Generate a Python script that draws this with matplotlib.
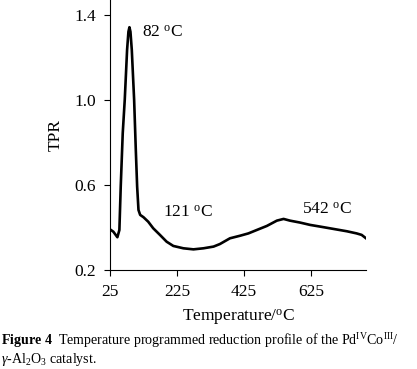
import matplotlib
matplotlib.use("Agg")
from matplotlib import pyplot as plt

plt.rcParams['font.family'] = ['Liberation Serif', 'DejaVu Serif']
plt.rcParams['mathtext.fontset'] = 'custom'
plt.rcParams['mathtext.rm'] = 'Liberation Serif'
plt.rcParams['mathtext.it'] = 'Liberation Serif:italic'
plt.rcParams['mathtext.bf'] = 'Liberation Serif:bold'

# TPR curve
temperature = [25, 35, 47, 53, 57, 63, 69, 76, 80, 83, 86, 90, 97, 102, 106, 110,
               115, 125, 139, 154, 174, 194, 214, 244, 274, 304, 334, 353, 383,
               413, 438, 463, 493, 523, 543, 562, 592, 622, 652, 692, 732, 761,
               776, 789]
tpr = [0.391, 0.38, 0.354, 0.388, 0.592, 0.843, 1.0, 1.235, 1.32, 1.341, 1.32,
       1.235, 1.0, 0.764, 0.592, 0.482, 0.459, 0.448, 0.427, 0.396, 0.365,
       0.333, 0.313, 0.302, 0.297, 0.302, 0.31, 0.322, 0.349, 0.361, 0.372,
       0.388, 0.407, 0.432, 0.44, 0.432, 0.423, 0.412, 0.404, 0.393, 0.382,
       0.372, 0.365, 0.349]

xticks = [25, 225, 425, 625]
yticks = [0.2, 0.6, 1.0, 1.4]
peak_labels = ["82", "121", "542"]
peak_pos = [(120, 1.315), (183, 0.47), (597, 0.485)]

fig = plt.figure(figsize=(4.17, 3.69), dpi=100)
ax = fig.add_axes([0.2638, 0.2683, 0.6139, 0.7317])

ax.plot(temperature, tpr, color="black", linewidth=1.9)

for lab, (x, y) in zip(peak_labels, peak_pos):
    ax.text(x, y, lab + r" $^{\rm o}$C", fontsize=12.5, va="center", ha="left")

ax.set_xlim(25, 789)
ax.set_ylim(0.2, 1.469)
ax.set_xticks(xticks)
ax.set_yticks(yticks)
ax.set_xticklabels([str(t) for t in xticks], fontsize=12.5)
ax.set_yticklabels(["0.2", "0.6", "1.0", "1.4"], fontsize=12.5)
ax.tick_params(direction="out", length=4, width=0.8, pad=6)
ax.spines["top"].set_visible(False)
ax.spines["right"].set_visible(False)

ax.set_ylabel("TPR", fontsize=12.5, labelpad=8)
ax.set_xlabel(r"Temperature/$^{\rm o}$C", fontsize=12.5, labelpad=6)

fig.text(0.003, 0.078,
         r"$\mathbf{Figure\ 4}$  Temperature programmed reduction profile of the Pd$^{\rm IV}$Co$^{\rm III}$/",
         fontsize=10.1, ha="left", va="center")
fig.text(0.003, 0.025, r"$\gamma$-Al$_{2}$O$_{3}$ catalyst.",
         fontsize=10.1, ha="left", va="center")

fig.savefig("out.png", dpi=100)
